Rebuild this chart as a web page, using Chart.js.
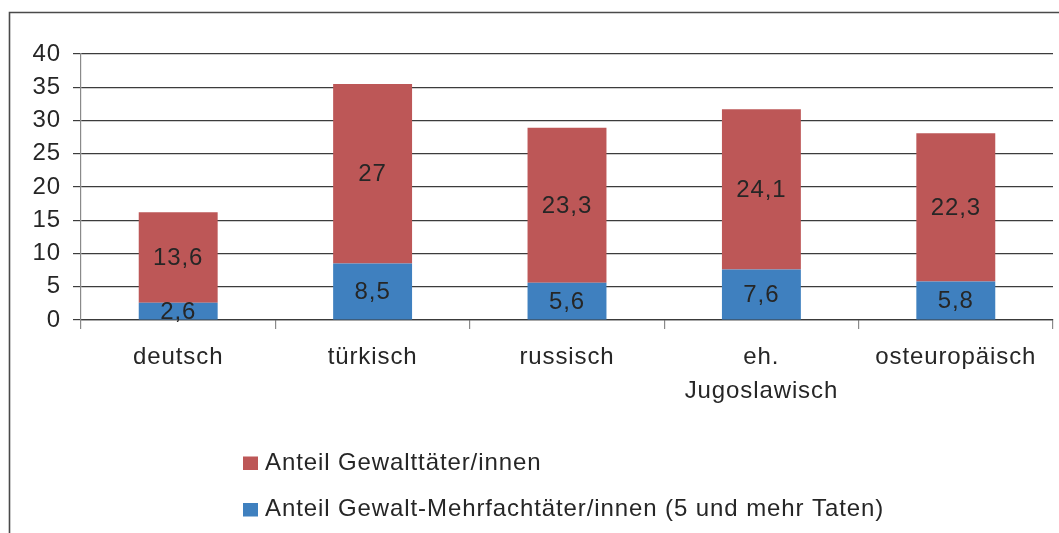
<!DOCTYPE html>
<html>
<head>
<meta charset="utf-8">
<script src="https://cdn.jsdelivr.net/npm/chart.js@4"></script>
<style>
  html, body { margin: 0; padding: 0; background: #ffffff; }
  #wrap { width: 1059px; height: 533px; position: relative; }
</style>
</head>
<body>
<div id="wrap"><canvas id="c" width="1059" height="533"></canvas></div>
<script>
const categories = [["deutsch"], ["türkisch"], ["russisch"], ["eh.", "Jugoslawisch"], ["osteuropäisch"]];
const multiOffenders = [2.6, 8.5, 5.6, 7.6, 5.8];
const violentOffenders = [13.6, 27, 23.3, 24.1, 22.3];
const seriesNames = ["Anteil Gewalt-Mehrfachtäter/innen (5 und mehr Taten)", "Anteil Gewalttäter/innen"];
const seriesColors = ["#3F80BF", "#BD5757"];
const yTicks = [0, 5, 10, 15, 20, 25, 30, 35, 40];

const FONT = "'Liberation Sans', Arial, sans-serif";
const TEXT = "#262626";
const SPACING = '0.9px';

function setSpacing(chart) {
  if ('letterSpacing' in chart.ctx) chart.ctx.letterSpacing = SPACING;
}

const spacingPlugin = {
  id: 'spacing',
  beforeInit: setSpacing,
  beforeUpdate: setSpacing,
  beforeLayout: setSpacing,
  beforeDraw: setSpacing,
  beforeDatasetsDraw: setSpacing,
  afterDatasetsDraw: setSpacing
};

const framePlugin = {
  id: 'frame',
  beforeDraw(chart) {
    const ctx = chart.ctx;
    ctx.save();
    ctx.strokeStyle = '#4a4a4a';
    ctx.lineWidth = 1.6;
    ctx.beginPath();
    ctx.moveTo(9.5, 533);
    ctx.lineTo(9.5, 12.5);
    ctx.lineTo(1059, 12.5);
    ctx.stroke();
    ctx.restore();
  }
};

const valueLabels = {
  id: 'valueLabels',
  afterDatasetsDraw(chart) {
    const ctx = chart.ctx;
    ctx.save();
    if ('letterSpacing' in ctx) ctx.letterSpacing = SPACING;
    ctx.font = "24px " + FONT;
    ctx.fillStyle = TEXT;
    ctx.textAlign = 'center';
    ctx.textBaseline = 'middle';
    chart.data.datasets.forEach((ds, di) => {
      const meta = chart.getDatasetMeta(di);
      meta.data.forEach((bar, i) => {
        const v = ds.data[i];
        const yc = (bar.y + bar.base) / 2;
        ctx.fillText(String(v).replace('.', ','), bar.x, yc + 1);
      });
    });
    ctx.restore();
  }
};

const customLegend = {
  id: 'customLegend',
  afterDraw(chart) {
    const ctx = chart.ctx;
    ctx.save();
    if ('letterSpacing' in ctx) ctx.letterSpacing = SPACING;
    ctx.font = "24px " + FONT;
    ctx.textAlign = 'left';
    ctx.textBaseline = 'alphabetic';
    const ds = chart.data.datasets;
    const order = [1, 0];
    const baselines = [469.5, 516];
    order.forEach((di, k) => {
      const b = baselines[k];
      ctx.fillStyle = ds[di].backgroundColor;
      ctx.fillRect(243, b - 13, 15, 13.5);
      ctx.fillStyle = TEXT;
      ctx.fillText(ds[di].label, 265, b);
    });
    ctx.restore();
  }
};

new Chart(document.getElementById('c'), {
  type: 'bar',
  data: {
    labels: categories,
    datasets: [
      { label: seriesNames[0], data: multiOffenders, backgroundColor: seriesColors[0], borderWidth: 0 },
      { label: seriesNames[1], data: violentOffenders, backgroundColor: seriesColors[1], borderWidth: 0 }
    ]
  },
  options: {
    responsive: false,
    animation: false,
    devicePixelRatio: 1,
    layout: { padding: { top: 54, right: 6, left: 0, bottom: 0 } },
    datasets: { bar: { categoryPercentage: 1, barPercentage: 0.406 } },
    plugins: {
      legend: { display: false },
      tooltip: { enabled: false },
      title: { display: false }
    },
    scales: {
      x: {
        stacked: true,
        offset: true,
        grid: { display: true, offset: true, drawOnChartArea: false, drawTicks: true, tickLength: 9, color: '#8a8a8a', lineWidth: 1.2 },
        border: { display: true, color: '#3a3a3a', width: 1.2 },
        ticks: { font: { family: FONT, size: 24, lineHeight: 1.42 }, color: TEXT, padding: 11, maxRotation: 0, autoSkip: false },
        afterFit(s) { s.height = 213; }
      },
      y: {
        stacked: true,
        min: 0,
        max: 40,
        afterBuildTicks(s) { s.ticks = yTicks.map(v => ({ value: v })); },
        grid: { color: '#3c3c3c', lineWidth: 1.2, tickLength: 8, drawTicks: true },
        border: { display: true, color: '#8a8a8a', width: 1.2 },
        ticks: { font: { family: FONT, size: 24 }, color: TEXT, padding: 12 },
        afterFit(s) { s.width = 81; }
      }
    }
  },
  plugins: [spacingPlugin, framePlugin, valueLabels, customLegend]
});
</script>
</body>
</html>
